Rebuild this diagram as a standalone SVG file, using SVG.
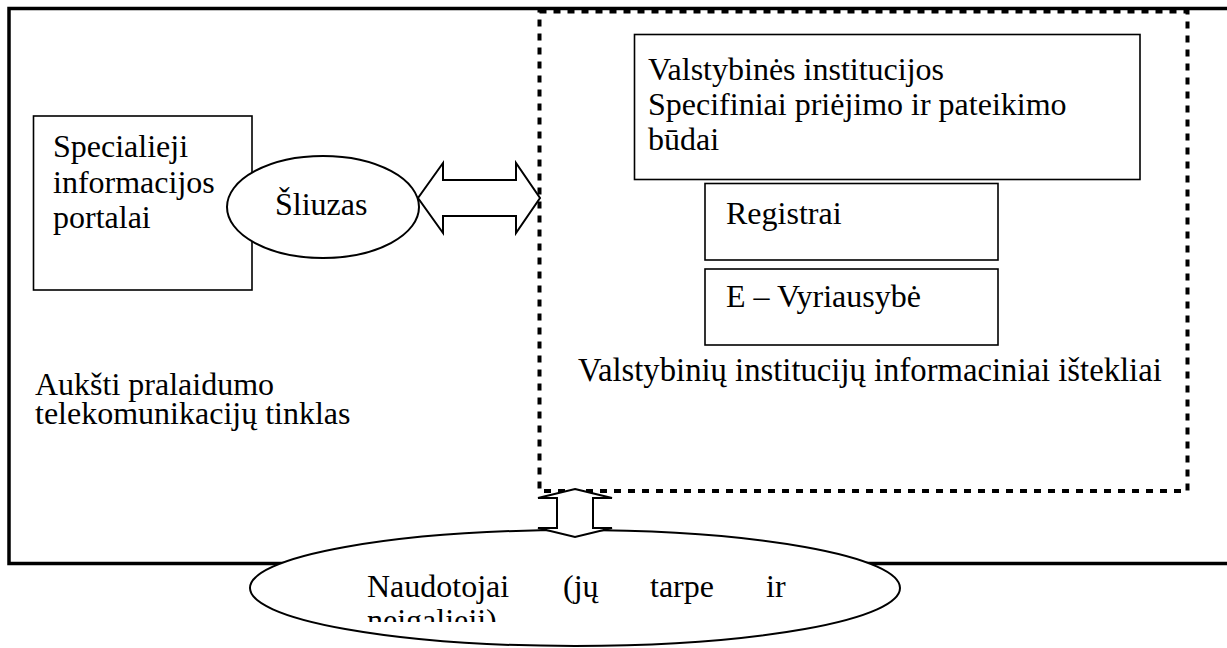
<svg xmlns="http://www.w3.org/2000/svg" width="1227" height="648" viewBox="0 0 1227 648">
<defs>
<style>
.t{font-family:"Liberation Serif","Times New Roman",serif;font-size:32px;fill:#000}
.box{fill:#fff;stroke:#000;stroke-width:1.6}
.shape{fill:#fff;stroke:#000;stroke-width:2}
</style>
<clipPath id="clipN"><rect x="300" y="560" width="520" height="62"/></clipPath>
</defs>
<rect width="1227" height="648" fill="#fff"/>
<g id="network">
<rect x="9" y="8.5" width="1240" height="555" fill="none" stroke="#000" stroke-width="3.5"/>
<text class="t" x="35" y="395">Aukšti pralaidumo</text>
<text class="t" x="35" y="424">telekomunikacijų tinklas</text>
</g>
<g id="resources">
<rect x="539.5" y="11.5" width="648" height="479.5" fill="none" stroke="#000" stroke-width="4" stroke-dasharray="7 7"/>
<text class="t" x="578" y="381" style="font-size:32.7px">Valstybinių institucijų informaciniai ištekliai</text>
</g>
<g id="portals">
<rect class="box" x="33.5" y="116" width="218.5" height="174"/>
<text class="t" x="53" y="157">Specialieji</text>
<text class="t" x="53" y="192.5">informacijos</text>
<text class="t" x="53" y="228">portalai</text>
</g>
<g id="gateway">
<ellipse class="shape" cx="323" cy="207" rx="96" ry="51"/>
<text class="t" x="275" y="215">Šliuzas</text>
</g>
<g id="institutions">
<rect class="box" x="634.5" y="34.5" width="505.5" height="145"/>
<text class="t" x="648" y="80">Valstybinės institucijos</text>
<text class="t" x="648" y="115">Specifiniai priėjimo ir pateikimo</text>
<text class="t" x="648" y="150">būdai</text>
</g>
<g id="registrai">
<rect class="box" x="705" y="183.5" width="293" height="76.5"/>
<text class="t" x="726" y="224">Registrai</text>
</g>
<g id="evyriausybe">
<rect class="box" x="705" y="269" width="293" height="76"/>
<text class="t" x="726" y="307">E – Vyriausybė</text>
</g>
<g id="users">
<ellipse class="shape" cx="575" cy="588" rx="325" ry="58"/>
<g clip-path="url(#clipN)">
<text class="t" y="597"><tspan x="367">Naudotojai</tspan><tspan x="563">(jų</tspan><tspan x="650">tarpe</tspan><tspan x="766">ir</tspan></text>
<text class="t" x="367" y="631">neigalieji)</text>
</g>
</g>
<g id="connectors">
<polygon class="shape" points="418,198 443,163 443,180 516,180 516,163 540,198 516,233 516,216 443,216 443,233"/>
<polygon class="shape" points="575,489 612,498 593,498 593,528 612,528 575,537 538,528 557,528 557,498 538,498"/>
</g>
</svg>
